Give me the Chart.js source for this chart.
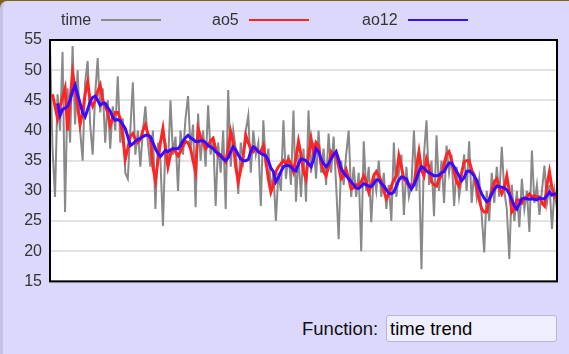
<!DOCTYPE html>
<html>
<head>
<meta charset="utf-8">
<script src="https://cdn.jsdelivr.net/npm/chart.js@4/dist/chart.umd.min.js"></script>
<style>
  html, body { margin: 0; padding: 0; }
  body { width: 569px; height: 354px; background: #7f6418; overflow: hidden; font-family: "Liberation Sans", Arial, sans-serif; }
  #panel { position: absolute; left: 0; top: 1px; width: 566px; height: 353px; background: #dcd8fc;
           border-left: 3px solid #c4c0e6; border-top-left-radius: 7px; }
  #wrap { position: absolute; left: 0; top: 0; width: 569px; height: 299px; }
  #legend { position: absolute; left: 0; top: 0; width: 569px; height: 36px; }
  .item { position: absolute; top: 10px; height: 20px; display: flex; align-items: center; font-size: 16px; color: #333; }
  .item .sw { display: inline-block; width: 60px; height: 2px; margin-left: 10px; }
  #fn { position: absolute; left: 302px; top: 315px; height: 27px; font-size: 18.5px; color: #111; display: flex; align-items: center; }
  #fn input { box-sizing: border-box; margin-left: 8px; width: 171px; height: 27px; padding: 0 3px; font: 18.5px "Liberation Sans", Arial, sans-serif; color: #000;
              background: #efeeff; border: 1px solid #b9b5da; border-radius: 3px; }
</style>
</head>
<body>
<div id="panel"></div>
<div id="wrap"><canvas id="c" width="569" height="299"></canvas></div>
<div id="legend"></div>
<div id="fn"><label for="f">Function:</label><input id="f" type="text" value="time trend"></div>
<script>
const seriesNames = ["time", "ao5", "ao12"];
const seriesColors = ["#898989", "#ff2424", "#3a0cff"];
const yTicks = [15, 20, 25, 30, 35, 40, 45, 50, 55];

const time = [
  54, 37, 29, 46, 40, 53, 26.5, 47, 38, 54,
  41, 50, 40, 35, 48, 51.5, 41, 36, 46, 52,
  43, 47, 38, 45, 37, 44, 40, 49, 38, 42,
  33, 32, 40, 48, 36, 40, 34, 40, 44, 38,
  34, 40, 27, 38, 35, 24.2, 38, 34, 45, 36,
  39, 30, 40, 36, 42, 45.7, 37, 41, 27.3, 42.8,
  35, 40, 34, 44.2, 36, 39, 27.5, 38, 33, 40,
  27, 46.7, 34, 40, 37, 29.5, 38, 35, 40, 42.5,
  33, 40, 36, 38, 27.5, 41.7, 34, 37, 30, 33,
  25, 33, 30, 41.7, 32, 36, 31, 43.3, 28.2, 36,
  29, 37, 28.2, 43.3, 33, 38, 32, 40, 33, 37,
  31, 39.5, 33, 39, 31, 22, 35, 31, 36, 40,
  29, 34, 29, 33, 20, 38.2, 30, 34, 24.8, 33,
  30, 35, 29, 33, 27, 31, 25, 38, 29, 33,
  36, 26, 34, 29, 31, 40, 30, 35, 17, 36,
  41.7, 31, 35, 25.8, 39.2, 30, 35, 28, 37.5, 33,
  36, 27.5, 34, 29, 32, 36, 30, 38.2, 28, 33,
  29, 32, 26, 19.8, 30, 25, 33, 28, 34, 29,
  37.3, 30, 27, 18.7, 31, 25, 30, 24, 32, 27,
  30, 23.2, 36.7, 28, 31, 26, 30, 34.2, 28, 31, 23.7, 30, 27
];

const ao5 = [
  null, 46, 44, 42, 44, 45.5, 47, 40, 45, 49.5,
  47, 44, 41, 43, 46, 48, 45, 44, 45, 46.5,
  47.5, 45, 44, 43, 40.8, 42, 43, 43, 42, 39,
  35.3, 37, 39, 39.5, 38.5, 38, 38.5, 40, 41, 39.5,
  38.5, 34, 31.7, 35, 38, 40.3, 37, 34, 36, 37,
  36.5, 35.8, 36.5, 37.5, 38.2, 38, 37, 35, 33.2, 40.3,
  39, 38, 37, 37.5, 38.3, 38.7, 37, 35.8, 36, 35.5,
  34.8, 37, 39.8, 38, 34, 31.5, 33.5, 35.8, 39.2, 38,
  37, 36.5, 37, 36.5, 36.5, 37.5, 35, 32, 29.8, 31,
  33.2, 34, 34.5, 35, 34.5, 35.2, 34.5, 33.2, 35.5, 38.2,
  36, 33.2, 32, 36, 38.7, 36.2, 38, 37.5, 34.5, 33.2,
  32.5, 34, 36.5, 36, 35.8, 34, 32, 32.5, 33.5, 32,
  30.3, 30.5, 31, 31, 31.5, 32.5, 31.5, 29.8, 31, 32.5,
  33.2, 32.5, 31.5, 30, 28.7, 29.5, 30.8, 31.8, 32.5, 35.8,
  34, 32, 31.5, 30.8, 31, 31, 34, 36.5, 33.5, 32.5,
  35.3, 34, 31.5, 31, 30.8, 32, 32.5, 34.5, 36, 36.5,
  35, 33.2, 31.5, 30.8, 33, 34.8, 35, 35, 33.5, 32.5,
  30.5, 28.5, 27, 26.5, 26.5, 28.5, 30, 31.5, 32, 30.5,
  29.5, 30.5, 32.5, 30, 26.5, 27, 28.5, 28.5, 28, 28.7,
  29, 29.5, 29, 29.2, 29, 29, 28, 27.5, 31, 33.2, 30.5, 29, 29.5
];

const ao12 = [
  null, null, null, 44.5, 42.5, 43.5, 43.7, 44, 45, 46.5,
  47.5, 46, 44.5, 43, 42.3, 43.5, 44.8, 45.5, 45.7, 45,
  44.2, 44.5, 44.5, 43.8, 43.2, 42.2, 41.7, 41.8, 41.6, 41,
  40.3, 39, 37.5, 37.8, 38.2, 38.5, 38.7, 39, 39.2, 39.2,
  39, 38, 37, 36.2, 35.7, 36.2, 36.7, 36.5, 36.8, 37,
  37, 37, 37.5, 38.3, 38.8, 39.2, 38.8, 38.5, 38.2, 38.2,
  38.3, 38.3, 38, 37.5, 37.3, 37, 36.5, 36.2, 35.8, 35.3,
  35, 35.5, 36.5, 37.3, 36.8, 36, 35.3, 35, 35, 35.2,
  36.5, 37.3, 37, 36.5, 36.2, 36, 35.8, 35, 33.8, 33.2,
  31.5, 32.2, 33.2, 34, 34.2, 34.2, 34, 33.5, 33.3, 34.5,
  35.3, 35.2, 35, 34.5, 34, 35.2, 37, 36.5, 35.3, 34.5,
  34, 34.5, 35.3, 36, 36.5, 35.2, 33.7, 33, 32.5, 32,
  31.5, 31, 30.5, 30.4, 30.8, 31.2, 31, 30.8, 30.7, 31.2,
  31.8, 31.8, 31.2, 30.8, 30.2, 29.6, 29.5, 29.8, 30.8, 31.8,
  32.3, 32.2, 32, 31, 30.3, 31, 32, 33.2, 34, 33.8,
  33.3, 33, 32.8, 32.5, 32.5, 32.6, 33, 33.2, 34, 34.6,
  34.6, 34, 33.2, 32.5, 31.7, 32.2, 33.2, 33.3, 33, 32.5,
  31.8, 30.5, 29.5, 28.8, 28.2, 28.5, 29.5, 30.2, 30.8, 30.7,
  30.6, 30.5, 30.2, 29.5, 28.5, 27.5, 27, 27.8, 28.7, 28.8,
  28.7, 28.6, 28.7, 28.6, 28.5, 28.8, 28.7, 28.7, 29.2, 29.8, 29.3, 29.5, 29.4
];

const categories = time.map((_, i) => String(i + 1));

// HTML legend built from the series names / colours
const legendEl = document.getElementById('legend');
const legendLeft = [61, 212, 362];
seriesNames.forEach((name, i) => {
  const it = document.createElement('div');
  it.className = 'item';
  it.style.left = legendLeft[i] + 'px';
  const t = document.createElement('span');
  t.textContent = name;
  const sw = document.createElement('span');
  sw.className = 'sw';
  sw.style.background = seriesColors[i];
  it.appendChild(t); it.appendChild(sw);
  legendEl.appendChild(it);
});

const plotFrame = {
  id: 'plotFrame',
  beforeDraw(chart) {
    const a = chart.chartArea, ctx = chart.ctx;
    ctx.save();
    ctx.fillStyle = '#ffffff';
    ctx.fillRect(a.left, a.top, a.right - a.left, a.bottom - a.top);
    ctx.restore();
  },
  afterDraw(chart) {
    const a = chart.chartArea, ctx = chart.ctx;
    ctx.save();
    ctx.strokeStyle = '#000';
    ctx.lineWidth = 2;
    ctx.strokeRect(a.left, a.top, a.right - a.left, a.bottom - a.top);
    ctx.restore();
  }
};

const widths = [2, 3, 3];
const orders = [3, 2, 1];
const allSeries = [time, ao5, ao12];

new Chart(document.getElementById('c'), {
  type: 'line',
  data: {
    labels: categories,
    datasets: allSeries.map((d, i) => ({
      label: seriesNames[i],
      data: d,
      order: orders[i],
      borderColor: seriesColors[i],
      backgroundColor: seriesColors[i],
      borderWidth: widths[i],
      pointRadius: 0,
      tension: 0,
      fill: false,
      spanGaps: false
    }))
  },
  options: {
    responsive: false,
    animation: false,
    events: [],
    layout: { padding: { top: 40, right: 12, bottom: 4, left: 0 } },
    plugins: { legend: { display: false }, tooltip: { enabled: false } },
    scales: {
      x: { display: false, offset: false },
      y: {
        min: 15, max: 55,
        afterBuildTicks(scale) { scale.ticks = yTicks.map(v => ({ value: v })); },
        afterFit(scale) { scale.width = 50; },
        border: { display: false },
        grid: { color: '#e3e3e3', lineWidth: 2, drawTicks: false },
        ticks: { padding: 8, color: '#333', font: { family: '"Liberation Sans", Arial, sans-serif', size: 16 } }
      }
    }
  },
  plugins: [plotFrame]
});
</script>
</body>
</html>
